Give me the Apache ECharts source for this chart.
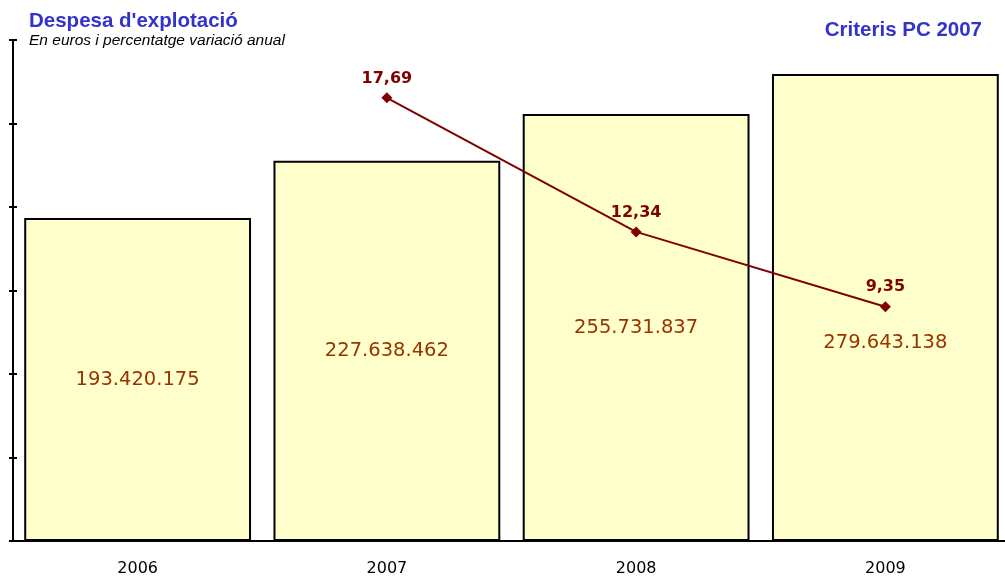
<!DOCTYPE html>
<html>
<head>
<meta charset="utf-8">
<script src="https://cdn.jsdelivr.net/npm/echarts@6/dist/echarts.min.js"></script>
<style>
  html, body { margin: 0; padding: 0; background: #fff; }
  #chart { width: 1005px; height: 577px; }
</style>
</head>
<body>
<div id="chart"></div>
<script>
const years = ['2006', '2007', '2008', '2009']
const despesa = [193420175, 227638462, 255731837, 279643138]
const variacio = [null, 17.69, 12.34, 9.35]

const fmtEuro = v => String(v).replace(/\B(?=(\d{3})+(?!\d))/g, '.')
const fmtPct = v => v.toFixed(2).replace('.', ',')

const chart = echarts.init(document.getElementById('chart'))

// the last bar label sits lower so it clears the line
const barData = despesa.map((v, i) => i === 3 ? { value: v, label: { offset: [0, 35] } } : v)

const option = {
  animation: false,
  title: [{
    text: "Despesa d'explotació",
    left: 29,
    top: 11,
    padding: 0,
    textStyle: { color: '#3333CC', fontSize: 20.5, fontWeight: 'bold', fontFamily: 'Liberation Sans' }
  }, {
    text: 'En euros i percentatge variació anual',
    left: 29,
    top: 33,
    padding: 0,
    textStyle: { color: '#000', fontSize: 15.5, fontStyle: 'italic', fontWeight: 'normal', fontFamily: 'Liberation Sans' }
  }, {
    text: 'Criteris PC 2007',
    right: 23,
    top: 20,
    padding: 0,
    textStyle: { color: '#3333CC', fontSize: 20.5, fontWeight: 'bold', fontFamily: 'Liberation Sans' }
  }],
  grid: {
    left: 13,
    top: 40,
    width: 997,
    height: 501,
    outerBoundsMode: 'none'
  },
  xAxis: [{
    type: 'category',
    data: years,
    axisLine: { lineStyle: { color: '#000', width: 2 } },
    axisTick: { length: 6, lineStyle: { color: '#000', width: 2 } },
    axisLabel: { color: '#000', fontSize: 16, fontFamily: 'DejaVu Sans', margin: 20 }
  }, {
    type: 'category',
    data: years,
    position: 'bottom',
    axisLine: { show: false },
    axisTick: { inside: true, length: 3, lineStyle: { color: '#000', width: 2 } },
    axisLabel: { show: false }
  }],
  yAxis: [{
    type: 'value',
    min: 0,
    max: 300000000,
    interval: 50000000,
    axisLine: { show: true, lineStyle: { color: '#000', width: 2 } },
    axisTick: { show: true, length: 4, lineStyle: { color: '#000', width: 2 } },
    axisLabel: { show: false },
    splitLine: { show: false }
  }, {
    type: 'value',
    min: 0,
    max: 20,
    show: false
  }, {
    type: 'value',
    min: 0,
    max: 300000000,
    interval: 50000000,
    position: 'left',
    axisLine: { show: false },
    axisTick: { show: true, inside: true, length: 4, lineStyle: { color: '#000', width: 2 } },
    axisLabel: { show: false },
    splitLine: { show: false }
  }],
  series: [{
    name: 'Despesa',
    type: 'bar',
    data: barData,
    barCategoryGap: '9%',
    itemStyle: { color: '#FFFFCC', borderColor: '#000', borderWidth: 2 },
    label: {
      show: true,
      position: 'inside',
      formatter: p => fmtEuro(p.value),
      color: '#993300',
      fontSize: 19.5,
      fontFamily: 'DejaVu Sans'
    }
  }, {
    name: 'Variació',
    type: 'line',
    yAxisIndex: 1,
    data: variacio,
    symbol: 'diamond',
    symbolSize: 11,
    lineStyle: { color: '#800000', width: 2 },
    itemStyle: { color: '#800000' },
    label: {
      show: true,
      position: 'top',
      distance: 6,
      formatter: p => fmtPct(p.value),
      color: '#800000',
      fontSize: 16,
      fontWeight: 'bold',
      fontFamily: 'DejaVu Sans'
    },
    z: 5
  }]
}

chart.setOption(option)
</script>
</body>
</html>
